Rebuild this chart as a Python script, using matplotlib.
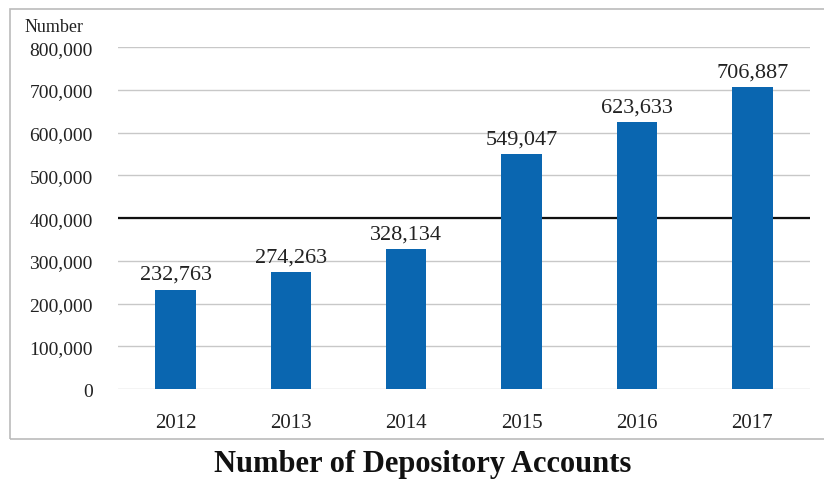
import matplotlib.pyplot as plt
import numpy as np
from matplotlib.patches import Rectangle

years = ["2012", "2013", "2014", "2015", "2016", "2017"]
accounts = [232763, 274263, 328134, 549047, 623633, 706887]
y_ticks = [0, 100000, 200000, 300000, 400000, 500000, 600000, 700000, 800000]

plt.rcParams["font.family"] = ["Liberation Serif", "DejaVu Serif"]

fig = plt.figure(figsize=(8.24, 4.81), dpi=100)
ax = fig.add_axes([0.143, 0.189, 0.840, 0.711])

x = np.arange(len(years))
ax.bar(x, accounts, width=0.35, color="#0a66b0", zorder=3)

# value labels above each bar
for xi, v in zip(x, accounts):
    ax.annotate(f"{v:,}", (xi, v), xytext=(0, 4), textcoords="offset points",
                ha="center", va="bottom", fontsize=16, color="#222222")

ax.set_xlim(-0.5, len(years) - 0.5)
ax.set_ylim(0, 800000)
ax.set_yticks(y_ticks)
ax.set_yticklabels([f"{t:,}" for t in y_ticks], fontsize=14, color="#222222")
ax.set_xticks(x)
ax.set_xticklabels(years, fontsize=15, color="#222222")
ax.tick_params(axis="x", length=0, pad=17)
ax.tick_params(axis="y", length=0, pad=18)

ax.grid(axis="y", color="#c8c8c8", linewidth=1, zorder=0)
ax.axhline(400000, color="#111111", linewidth=1.6, zorder=2)
for s in ax.spines.values():
    s.set_visible(False)

ax.text(-0.135, 1.035, "Number", transform=ax.transAxes, fontsize=13,
        ha="left", va="bottom", color="#222222")

# outer frame around the chart
fig.patches.append(Rectangle((0.012, 0.085), 1.0, 0.894, transform=fig.transFigure,
                             fill=False, edgecolor="#bbbbbb", linewidth=1.2))

fig.text(0.513, 0.035, "Number of Depository Accounts", ha="center", va="center",
         fontsize=22, fontweight="bold", color="#111111")

fig.savefig("out.png", dpi=100)
